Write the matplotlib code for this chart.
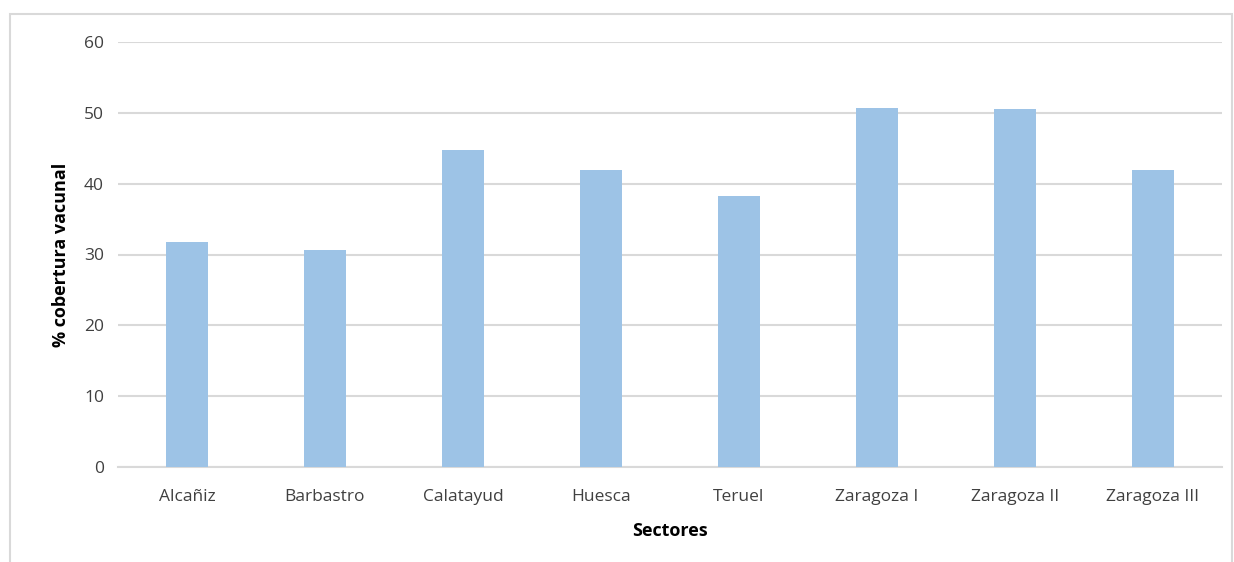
import matplotlib.pyplot as plt
from matplotlib.patches import Rectangle

# Data
sectores = ["Alcañiz", "Barbastro", "Calatayud", "Huesca", "Teruel",
            "Zaragoza I", "Zaragoza II", "Zaragoza III"]
cobertura = [31.7, 30.7, 44.8, 42.0, 38.2, 50.7, 50.5, 41.9]
y_ticks = [0, 10, 20, 30, 40, 50, 60]

bar_color = "#9DC3E6"
grid_color = "#D9D9D9"
text_color = "#404040"

plt.rcParams["font.family"] = ["Open Sans", "DejaVu Sans"]

fig = plt.figure(figsize=(12.34, 5.62), dpi=100)
fig.patch.set_facecolor("white")

# light frame around the chart area, as in the original export
fig.patches.append(Rectangle((10 / 1234, -0.05), 1222 / 1234, 1 - 14 / 562 + 0.05,
                             transform=fig.transFigure, fill=False,
                             edgecolor="#D9D9D9", linewidth=1.5))

ax = fig.add_axes([118 / 1234, 1 - 467 / 562, 1104 / 1234, 425 / 562])

x = range(len(sectores))
ax.bar(x, cobertura, width=0.31, color=bar_color, zorder=3)

ax.set_xlim(-0.5, len(sectores) - 0.5)
ax.set_ylim(0, 60)
ax.set_yticks(y_ticks)
ax.set_xticks(list(x))
ax.set_xticklabels(sectores)

ax.yaxis.grid(True, color=grid_color, linewidth=1.5, zorder=0)
ax.set_axisbelow(True)

for side in ["top", "right", "left"]:
    ax.spines[side].set_visible(False)
ax.spines["bottom"].set_color(grid_color)
ax.spines["bottom"].set_linewidth(1.5)

ax.tick_params(axis="both", length=0, labelsize=12.5, colors=text_color)
ax.tick_params(axis="y", pad=10)
ax.tick_params(axis="x", pad=16)

ax.set_ylabel("% cobertura vacunal", fontsize=13, fontweight="bold",
              color="black", labelpad=10)
ax.set_xlabel("Sectores", fontsize=13, fontweight="bold",
              color="black", labelpad=12)

fig.savefig("out.png", dpi=100)
